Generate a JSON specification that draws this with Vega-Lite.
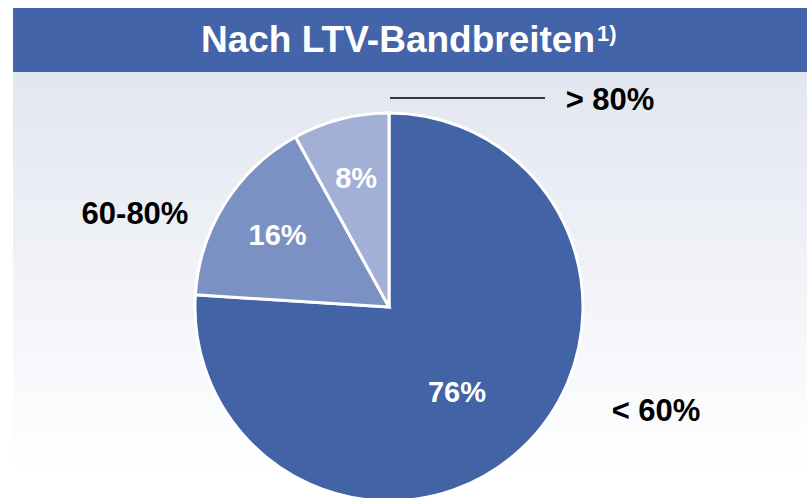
{
  "$schema": "https://vega.github.io/schema/vega-lite/v6.json",
  "width": 807,
  "height": 498,
  "autosize": {"type": "fit", "contains": "padding"},
  "padding": 0,
  "background": "#ffffff",
  "config": {"view": {"stroke": null}, "text": {"font": "Liberation Sans", "fontWeight": "bold"}},
  "datasets": {
    "slices": [
      {"band": "< 60%", "share": 76, "label": "76%", "idx": 1},
      {"band": "60-80%", "share": 16, "label": "16%", "idx": 2},
      {"band": "> 80%", "share": 8, "label": "8%", "idx": 3}
    ],
    "header": [{"title": "Nach LTV-Bandbreiten", "note": "1)"}]
  },
  "layer": [
    {
      "data": {"name": "header"},
      "mark": {"type": "rect", "fill": {"gradient": "linear", "x1": 0, "y1": 0, "x2": 0, "y2": 1, "stops": [{"offset": 0, "color": "#e2e6f0"}, {"offset": 1, "color": "#ffffff"}]}},
      "encoding": {"x": {"value": 13}, "x2": {"value": "width"}, "y": {"value": 72}, "y2": {"value": 472}}
    },
    {
      "data": {"name": "header"},
      "mark": {"type": "rect", "fill": "#4364a8"},
      "encoding": {"x": {"value": 13}, "x2": {"value": "width"}, "y": {"value": 8}, "y2": {"value": 72}}
    },
    {
      "data": {"name": "header"},
      "mark": {"type": "text", "fontSize": 37, "color": "#ffffff", "align": "center", "baseline": "alphabetic"},
      "encoding": {"text": {"field": "title"}, "x": {"value": 398}, "y": {"value": 52}}
    },
    {
      "data": {"name": "header"},
      "mark": {"type": "text", "fontSize": 22, "color": "#ffffff", "align": "left", "baseline": "alphabetic"},
      "encoding": {"text": {"field": "note"}, "x": {"value": 597}, "y": {"value": 41}}
    },
    {
      "data": {"name": "slices"},
      "mark": {"type": "arc", "radius": 194, "stroke": "#ffffff", "strokeWidth": 3},
      "encoding": {
        "theta": {"field": "share", "type": "quantitative", "stack": true},
        "order": {"field": "idx", "type": "quantitative"},
        "color": {"field": "band", "type": "nominal", "legend": null, "scale": {"domain": ["< 60%", "60-80%", "> 80%"], "range": ["#4263a6", "#7b91c3", "#a2b0d5"]}},
        "x": {"value": 389},
        "y": {"value": 307}
      }
    },
    {
      "data": {"name": "slices"},
      "transform": [{"calculate": "datum.idx == 1 ? '' : datum.label", "as": "inner"}],
      "mark": {"type": "text", "fontSize": 29, "color": "#ffffff", "align": "center", "baseline": "middle", "radius": 132},
      "encoding": {
        "theta": {"field": "share", "type": "quantitative", "stack": true},
        "order": {"field": "idx", "type": "quantitative"},
        "text": {"field": "inner"},
        "x": {"value": 389},
        "y": {"value": 307}
      }
    },
    {
      "data": {"name": "slices"},
      "transform": [{"filter": "datum.idx == 1"}],
      "mark": {"type": "text", "fontSize": 29, "color": "#ffffff", "align": "center", "baseline": "middle", "x": 457, "y": 393},
      "encoding": {"text": {"field": "label"}}
    },
    {
      "data": {"name": "slices"},
      "mark": {"type": "rule", "stroke": "#000000", "strokeWidth": 1.5},
      "transform": [{"filter": "datum.idx == 3"}],
      "encoding": {"x": {"value": 390}, "x2": {"value": 545}, "y": {"value": 98}}
    },
    {
      "data": {"name": "slices"},
      "transform": [{"filter": "datum.idx == 3"}],
      "mark": {"type": "text", "fontSize": 31, "color": "#000000", "align": "center", "baseline": "middle", "x": 610, "y": 101},
      "encoding": {"text": {"field": "band"}}
    },
    {
      "data": {"name": "slices"},
      "transform": [{"filter": "datum.idx == 2"}],
      "mark": {"type": "text", "fontSize": 31, "color": "#000000", "align": "center", "baseline": "middle", "x": 135, "y": 215},
      "encoding": {"text": {"field": "band"}}
    },
    {
      "data": {"name": "slices"},
      "transform": [{"filter": "datum.idx == 1"}],
      "mark": {"type": "text", "fontSize": 31, "color": "#000000", "align": "center", "baseline": "middle", "x": 656, "y": 412},
      "encoding": {"text": {"field": "band"}}
    }
  ]
}
